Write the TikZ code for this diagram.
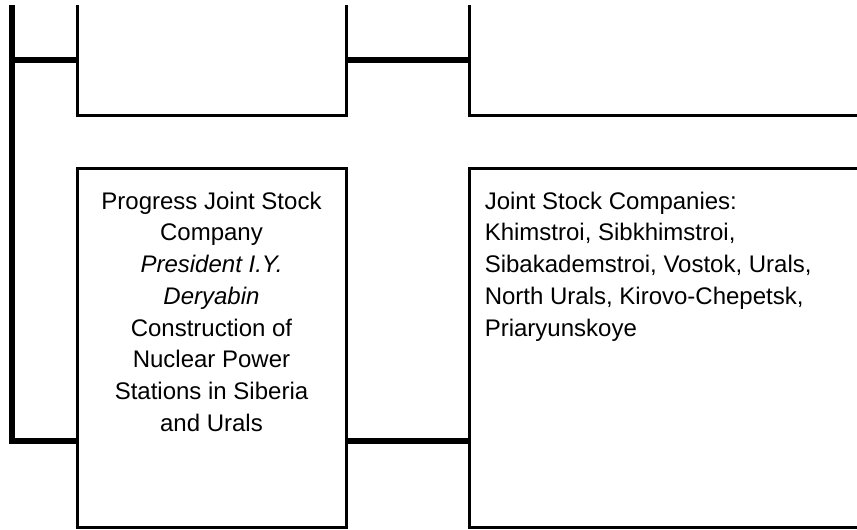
\documentclass[tikz,border=0pt]{standalone}
\usepackage{fontspec}
\setmainfont{Liberation Sans}
\usetikzlibrary{positioning}
\begin{document}
\begin{tikzpicture}[x=0.75pt,y=-0.75pt]
        \tikzstyle{orgbox}=[rectangle,draw=black,line width=2.25pt,inner sep=0pt]
        \tikzstyle{txt}=[inner sep=0pt,font=\fontsize{18pt}{23.8pt}\selectfont]
        \tikzstyle{link}=[draw=black,line width=4.5pt]
        \useasboundingbox (0,0) rectangle (857,529);
        \clip (0,5) rectangle (857,529);

        % boxes, cut by the frame
        \node [orgbox,minimum width=201.75pt,minimum height=123.75pt] (top1) at (211.5,32.5) {};
        \node [orgbox,minimum width=450pt,minimum height=123.75pt] (top2) at (769.5,32.5) {};
        \node [orgbox,minimum width=201.75pt,minimum height=269.25pt] (progress) at (211.5,347.5) {};
        \node [orgbox,minimum width=450pt,minimum height=269.25pt] (companies) at (769.5,347.5) {};

        \node [txt,align=center,below=18.75pt of progress.north] (progresstext) {Progress Joint Stock\\Company\\\textit{President I.Y.}\\\textit{Deryabin}\\Construction of\\Nuclear Power\\Stations in Siberia\\and Urals};
        \node [txt,align=left,below right=18.75pt and 12.4pt of companies.north west] (companiestext) {Joint Stock Companies:\\Khimstroi, Sibkhimstroi,\\Sibakademstroi, Vostok, Urals,\\North Urals, Kirovo-Chepetsk,\\Priaryunskoye};

        % connectors
        \coordinate (spinetop) at (12,0);
        \coordinate (spineend) at (12,441);
        \coordinate (upper) at (12,60);
        \draw[link] (spinetop) -- (spineend) -- (progress.west |- spineend);
        \draw[link] (upper) -- (top1.west |- upper);
        \draw[link] (top1.east |- upper) -- (top2.west |- upper);
        \draw[link] (progress.east |- spineend) -- (companies.west |- spineend);
\end{tikzpicture}
\end{document}
